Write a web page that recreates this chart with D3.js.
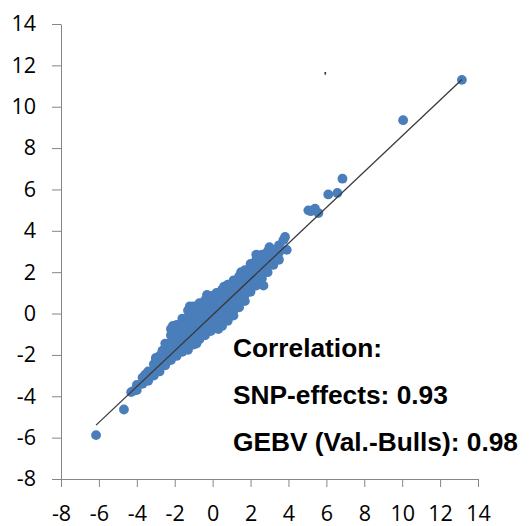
<!DOCTYPE html>
<html>
<head>
<meta charset="utf-8">
<script src="https://cdn.jsdelivr.net/npm/d3@7"></script>
<style>
    html, body { margin: 0; padding: 0; background: #fff; }
    svg { display: block; }
    .tick text { font-family: "Open Sans", Lato, sans-serif; font-size: 21.5px; fill: #000; }
    .tick line, .domain { stroke: #868686; }
    .note { font-family: "Liberation Sans", Arial, sans-serif; font-weight: bold; font-size: 26.3px; fill: #000; }
</style>
</head>
<body>
<svg id="chart"></svg>
<script>
// --- values ---
const xTicks = [-8, -6, -4, -2, 0, 2, 4, 6, 8, 10, 12, 14];
const yTicks = [-8, -6, -4, -2, 0, 2, 4, 6, 8, 10, 12, 14];

// dense cloud: each row is an x value and the y values stacked there
const cloudRows = [
    [-4.3, [-3.8]],
    [-4.0, [-3.45, -3.7]],
    [-3.7, [-3.1, -3.4]],
    [-3.4, [-2.8, -3.05, -3.25]],
    [-3.1, [-2.45, -2.75, -3.0]],
    [-2.8, [-2.05, -2.35, -2.6, -2.8]],
    [-2.5, [-1.45, -1.75, -2.05, -2.3, -2.5]],
    [-2.2, [-0.75, -1.05, -1.4, -1.7, -2.0, -2.25]],
    [-1.9, [-0.55, -0.85, -1.2, -1.5, -1.8, -2.05]],
    [-1.6, [-0.25, -0.6, -0.9, -1.25, -1.55, -1.85]],
    [-1.3, [0.15, -0.2, -0.5, -0.85, -1.15, -1.45, -1.75]],
    [-1.0, [0.35, 0.0, -0.3, -0.6, -0.9, -1.2, -1.5]],
    [-0.7, [0.5, 0.2, -0.15, -0.45, -0.75, -1.0, -1.25]],
    [-0.4, [0.65, 0.35, 0.05, -0.25, -0.55, -0.8, -1.05]],
    [-0.1, [0.85, 0.55, 0.2, -0.1, -0.4, -0.65, -0.85]],
    [0.2, [1.0, 0.7, 0.4, 0.1, -0.2, -0.45, -0.7]],
    [0.5, [1.15, 0.85, 0.55, 0.25, -0.05, -0.35, -0.6]],
    [0.8, [1.4, 1.1, 0.8, 0.5, 0.2, -0.1, -0.35]],
    [1.1, [1.6, 1.3, 1.0, 0.7, 0.4, 0.15, -0.1]],
    [1.4, [1.8, 1.5, 1.2, 0.9, 0.6, 0.3]],
    [1.7, [2.1, 1.8, 1.5, 1.2, 0.9, 0.6]],
    [2.0, [2.4, 2.1, 1.8, 1.5, 1.25, 1.05]],
    [2.3, [2.6, 2.3, 2.0, 1.65, 1.35]],
    [2.6, [2.85, 2.5, 2.15, 1.7]],
    [2.9, [3.0, 2.65, 2.3, 2.0]],
    [3.2, [3.05, 2.7, 2.35]],
    [3.5, [3.3, 2.95, 2.6]]
];

// bumps on the cloud edge and the lone points
const extraPoints = [
    [-2.1, -0.6], [-1.2, 0.35], [-0.3, 0.9], [0.6, 1.3], [1.5, 2.0], [2.3, 2.85],
    [-0.85, -1.45], [0.3, -0.75], [-3.0, -2.15], [-3.55, -2.95], [-2.65, -1.8],
    [2.68, 1.35], [3.0, 3.21], [3.82, 3.7], [3.91, 3.08], [3.73, 3.55],
    [5.05, 4.99], [5.18, 4.95], [5.4, 5.07], [5.58, 4.86],
    [6.1, 5.76], [6.58, 5.83], [6.85, 6.52], [10.05, 9.35], [13.15, 11.3],
    [-4.2, -3.75], [-4.68, -4.64], [-6.15, -5.88]
];

// linear trend line
const trendX = [-6.15, 13.15];
const trendSlope = 0.866;
const trendIntercept = -0.07;

const noteLines = ['Correlation:', 'SNP-effects: 0.93', 'GEBV (Val.-Bulls): 0.98'];

const width = 530, height = 526;
const svg = d3.select('#chart').attr('width', width).attr('height', height);

const x = d3.scaleLinear().domain([-8, 14]).range([61, 478]);
const y = d3.scaleLinear().domain([-8, 14]).range([479, 24]);

// plain hyphen for negatives, as in the original
const fmt = d => String(d);

svg.append('g')
    .attr('transform', `translate(0,${y(-8)})`)
    .call(d3.axisBottom(x).tickValues(xTicks).tickFormat(fmt).tickSize(8).tickSizeOuter(0).tickPadding(19));

svg.append('g')
    .attr('transform', `translate(${x(-8)},0)`)
    .call(d3.axisLeft(y).tickValues(yTicks).tickFormat(fmt).tickSize(9).tickSizeOuter(0).tickPadding(16));

const points = cloudRows.flatMap(([cx, ys]) => ys.map(cy => [cx, cy])).concat(extraPoints);

svg.append('g')
    .selectAll('circle')
    .data(points)
    .join('circle')
    .attr('cx', d => x(d[0]))
    .attr('cy', d => y(d[1]))
    .attr('r', 4.9)
    .attr('fill', '#4a7ebb');

svg.append('line')
    .attr('x1', x(trendX[0]))
    .attr('y1', y(trendSlope * trendX[0] + trendIntercept))
    .attr('x2', x(trendX[1]))
    .attr('y2', y(trendSlope * trendX[1] + trendIntercept))
    .attr('stroke', '#3a3a3a')
    .attr('stroke-width', 1.3);

svg.append('g')
    .selectAll('text')
    .data(noteLines)
    .join('text')
    .attr('class', 'note')
    .attr('x', 233)
    .attr('y', (d, i) => 357 + i * 47)
    .text(d => d);

// small stray mark near the top
svg.append('text')
    .attr('x', 324)
    .attr('y', 80)
    .attr('font-family', 'Liberation Sans')
    .attr('font-weight', 'bold')
    .attr('font-size', 10)
    .text("'");
</script>
</body>
</html>
